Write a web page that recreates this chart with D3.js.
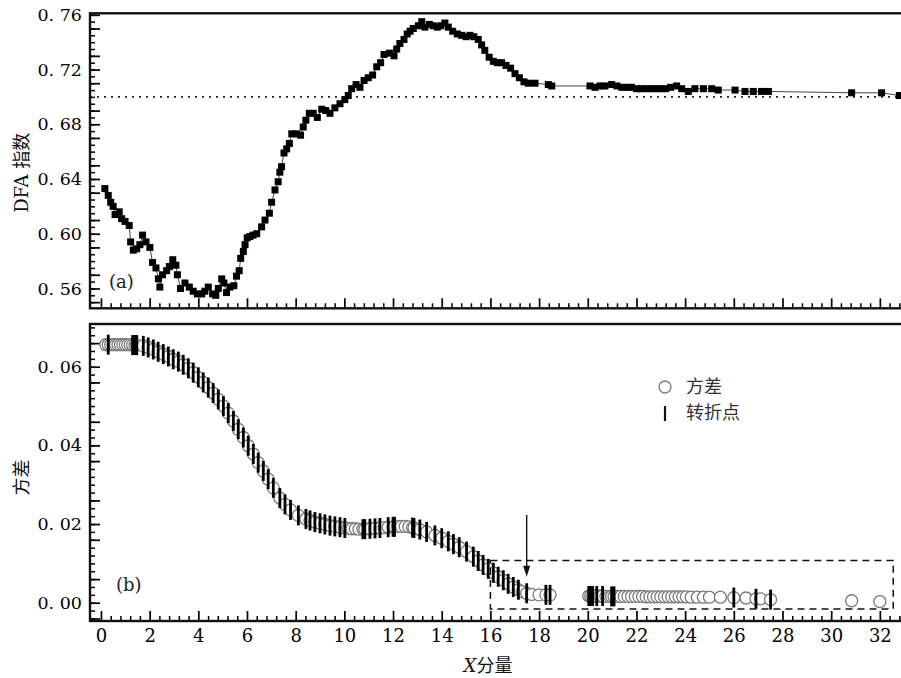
<!DOCTYPE html>
<html>
<head>
<meta charset="utf-8">
<script src="https://cdn.jsdelivr.net/npm/d3@7"></script>
<style>
  body { margin: 0; background: #fff; }
  svg { display: block; }
</style>
</head>
<body>
<svg id="chart" width="901" height="678"></svg>
<script>
// ---- (a) DFA exponent along the X component ----
const dfaX = [0.16,0.30,0.40,0.50,0.58,0.75,0.85,0.99,1.16,1.22,1.33,1.47,1.60,1.71,1.85,2.01,2.12,2.26,2.36,2.42,
  2.53,2.70,2.81,2.95,3.08,3.14,3.27,3.45,3.63,3.79,3.96,4.14,4.27,4.41,4.59,4.72,4.82,4.96,5.05,5.16,
  5.30,5.46,5.57,5.68,5.74,5.85,5.92,6.01,6.12,6.25,6.40,6.60,6.74,6.92,7.01,7.15,7.28,7.35,7.42,7.52,
  7.63,7.74,7.84,8.04,8.20,8.31,8.42,8.56,8.72,8.89,9.07,9.24,9.41,9.61,9.82,10.02,10.16,10.30,10.48,10.64,
  10.81,10.98,11.16,11.33,11.49,11.63,11.85,12.04,12.15,12.28,12.45,12.58,12.70,12.83,13.04,13.18,13.31,13.49,13.65,13.82,
  13.96,14.13,14.27,14.45,14.64,14.82,15.00,15.16,15.32,15.50,15.64,15.77,15.95,16.12,16.28,16.46,16.64,16.83,17.01,17.19,
  17.38,17.56,17.83,18.38,18.52,20.09,20.30,20.50,20.70,20.98,21.20,21.40,21.60,21.80,22.00,22.20,22.40,22.60,22.80,23.00,
  23.20,23.40,23.65,23.86,24.13,24.40,24.75,25.09,25.36,26.05,26.46,26.80,27.14,27.42,30.84,32.07,32.80];
const dfaY = [0.633,0.628,0.623,0.620,0.614,0.616,0.611,0.609,0.606,0.594,0.588,0.589,0.592,0.599,0.594,0.590,0.579,0.575,0.567,0.561,
  0.570,0.573,0.576,0.581,0.577,0.570,0.560,0.564,0.561,0.558,0.556,0.556,0.558,0.561,0.556,0.555,0.560,0.567,0.564,0.557,
  0.561,0.562,0.569,0.573,0.582,0.587,0.592,0.597,0.598,0.599,0.600,0.605,0.610,0.615,0.623,0.632,0.638,0.645,0.649,0.659,
  0.662,0.666,0.673,0.673,0.672,0.678,0.683,0.688,0.688,0.685,0.691,0.690,0.688,0.692,0.695,0.698,0.701,0.706,0.709,0.707,
  0.712,0.714,0.716,0.722,0.725,0.731,0.732,0.730,0.735,0.739,0.742,0.746,0.748,0.750,0.752,0.755,0.751,0.753,0.752,0.751,
  0.752,0.754,0.751,0.748,0.746,0.745,0.744,0.745,0.744,0.742,0.738,0.734,0.729,0.726,0.725,0.725,0.723,0.721,0.717,0.714,
  0.711,0.710,0.710,0.709,0.708,0.708,0.707,0.708,0.708,0.709,0.708,0.707,0.707,0.707,0.706,0.706,0.706,0.706,0.706,0.706,
  0.706,0.707,0.708,0.706,0.704,0.706,0.706,0.706,0.705,0.705,0.704,0.704,0.704,0.704,0.703,0.703,0.701];
const dfaRef = 0.70;

// ---- (b) variance along the X component ----
const varX = [0.2,0.3,0.4,0.5,0.6,0.7,0.8,0.9,1.0,1.1,1.2,1.3,1.4,1.47,1.74,1.94,2.15,2.35,2.56,2.77,
  2.97,3.18,3.38,3.59,3.79,4.0,4.2,4.41,4.61,4.82,5.03,5.23,5.44,5.64,5.85,6.05,6.26,6.46,6.67,6.87,
  7.08,7.35,7.56,7.79,8.11,8.42,8.59,8.79,9.0,9.2,9.41,9.61,9.82,10.02,10.15,10.3,10.45,10.6,10.76,10.84,
  11.05,11.26,11.46,11.63,11.8,12.0,12.06,12.2,12.35,12.5,12.65,12.8,12.86,13.1,13.38,13.72,14.0,14.27,14.48,14.72,
  15.02,15.3,15.5,15.7,15.91,16.12,16.32,16.53,16.73,16.94,17.15,17.3,17.49,17.7,18.0,18.28,18.45,20.04,20.12,20.2,
  20.28,20.37,20.5,20.61,20.75,20.9,20.98,21.08,21.2,21.35,21.5,21.65,21.8,21.95,22.1,22.25,22.4,22.55,22.7,22.85,
  23.0,23.15,23.3,23.45,23.6,23.75,23.9,24.05,24.25,24.5,24.75,25.0,25.45,26.0,26.5,26.91,27.1,27.51,30.84,32.0];
const varY = [0.0656,0.0656,0.0656,0.0656,0.0656,0.0656,0.0656,0.0656,0.0656,0.0656,0.0656,0.0655,0.0655,0.0655,0.0653,0.0649,0.0644,0.0638,0.0632,0.0626,
  0.0619,0.0613,0.0605,0.0596,0.0585,0.0573,0.0560,0.0547,0.0533,0.0517,0.0500,0.0482,0.0462,0.0441,0.0420,0.0399,0.0378,0.0356,0.0335,0.0314,
  0.0292,0.0266,0.0250,0.0236,0.0222,0.0213,0.0209,0.0205,0.0202,0.0199,0.0196,0.0194,0.0192,0.0190,0.0189,0.0188,0.0188,0.0187,0.0187,0.0187,
  0.0188,0.0189,0.0190,0.0191,0.0192,0.0193,0.0193,0.0194,0.0194,0.0194,0.0193,0.0191,0.0190,0.0186,0.0180,0.0171,0.0164,0.0156,0.0149,0.0141,
  0.0130,0.0117,0.0106,0.0096,0.0086,0.0076,0.0066,0.0057,0.0048,0.0040,0.0033,0.0028,0.0024,0.0021,0.0020,0.0020,0.0020,0.0017,0.0017,0.0017,
  0.0017,0.0017,0.0017,0.0017,0.0016,0.0016,0.0016,0.0016,0.0016,0.0016,0.0016,0.0016,0.0016,0.0016,0.0016,0.0016,0.0015,0.0015,0.0015,0.0015,
  0.0015,0.0015,0.0015,0.0015,0.0015,0.0015,0.0015,0.0015,0.0014,0.0014,0.0014,0.0014,0.0014,0.0013,0.0012,0.0010,0.0010,0.0008,0.0005,0.0003];
// turning points (positions on the variance curve)
const turnX = [0.3,1.3,1.4,1.47,1.74,1.94,2.15,2.35,2.56,2.77,2.97,3.18,3.38,3.59,3.79,4.0,4.2,4.41,4.61,4.82,
  5.03,5.23,5.44,5.64,5.85,6.05,6.26,6.46,6.67,6.87,7.08,7.35,7.56,7.79,8.11,8.42,8.59,8.79,9.0,9.2,
  9.41,9.61,9.82,10.02,10.76,10.84,11.05,11.26,11.46,11.8,12.0,12.06,12.8,12.86,13.1,13.38,13.72,14.0,14.27,14.48,
  14.72,15.02,15.3,15.5,15.7,15.91,16.12,16.32,16.53,16.73,16.94,17.15,17.49,18.28,18.45,20.04,20.12,20.2,20.37,20.61,
  20.98,21.08,26.0,26.91,27.51];

// region of interest and the arrow marking where the curve flattens
const boxX = [16, 32.55];
const boxY = [-0.0016, 0.0107];
const arrowX = 17.49;
const arrowY = [0.0223, 0.0066];

// axis tick labels
const xTickVals = [0,2,4,6,8,10,12,14,16,18,20,22,24,26,28,30,32];
const dfaTickVals = [0.56,0.60,0.64,0.68,0.72,0.76];
const varTickVals = [0.00,0.02,0.04,0.06];

const svg = d3.select('#chart');
const serif = "'DejaVu Serif', 'Liberation Serif', serif";
const cjk = "'Noto Sans CJK SC', sans-serif";

const L = 90, R = 904.2;
const topPanel = { top: 13.3, bottom: 308.3 };
const botPanel = { top: 324, bottom: 621 };

const x = d3.scaleLinear().domain([-0.45, 33.0]).range([L, R]);
const yTop = d3.scaleLinear().domain([0.5455, 0.7611]).range([topPanel.bottom, topPanel.top]);
const yBot = d3.scaleLinear().domain([-0.00465, 0.07086]).range([botPanel.bottom, botPanel.top]);

const fmt2 = d => d3.format('.2f')(d).replace('.', '. ');

function styleAxis(g, width) {
  g.select('.domain').remove();
  g.selectAll('.tick line').attr('stroke', '#000').attr('stroke-width', width);
}

function xTicks(panel, labels) {
  const minor = d3.range(0, 33.01, 0.4).filter(v => Math.abs(v / 2 - Math.round(v / 2)) > 1e-6);
  const gMin = svg.append('g').attr('transform', `translate(0,${panel.bottom})`)
    .call(d3.axisBottom(x).tickValues(minor).tickSize(-5).tickFormat(''));
  styleAxis(gMin, 1.5);
  const gMaj = svg.append('g').attr('transform', `translate(0,${panel.bottom})`)
    .call(d3.axisBottom(x).tickValues(xTickVals).tickSize(-10).tickPadding(8)
      .tickFormat(labels ? d3.format('d') : ''));
  styleAxis(gMaj, 1.7);
  gMaj.selectAll('text').attr('font-family', serif).attr('font-size', 18).attr('fill', '#000');
}

function yTicks(scale, labelVals, majorStep, minorStep, lo, hi) {
  const minor = d3.range(lo, hi + 1e-9, minorStep).map(v => +v.toFixed(5));
  const major = d3.range(lo, hi + 1e-9, majorStep).map(v => +v.toFixed(5));
  const gMin = svg.append('g').attr('transform', `translate(${L},0)`)
    .call(d3.axisLeft(scale).tickValues(minor).tickSize(-5).tickFormat(''));
  styleAxis(gMin, 1.5);
  const gMaj = svg.append('g').attr('transform', `translate(${L},0)`)
    .call(d3.axisLeft(scale).tickValues(major).tickSize(-10).tickFormat(''));
  styleAxis(gMaj, 1.7);
  const gLab = svg.append('g').attr('transform', `translate(${L},0)`)
    .call(d3.axisLeft(scale).tickValues(labelVals).tickSize(-10).tickPadding(8).tickFormat(fmt2));
  styleAxis(gLab, 1.7);
  gLab.selectAll('text').attr('font-family', serif).attr('font-size', 17.5).attr('fill', '#000');
}

// ---------- panel (a) ----------
yTicks(yTop, dfaTickVals, 0.02, 0.005, 0.55, 0.76);
xTicks(topPanel, false);

svg.append('line')
  .attr('x1', L).attr('x2', R)
  .attr('y1', yTop(dfaRef)).attr('y2', yTop(dfaRef))
  .attr('stroke', '#222').attr('stroke-width', 1.6).attr('stroke-dasharray', '2,5');

const dfaData = dfaX.map((v, i) => [v, dfaY[i]]);
svg.append('path')
  .datum(dfaData)
  .attr('fill', 'none').attr('stroke', '#333').attr('stroke-width', 0.9)
  .attr('d', d3.line().x(d => x(d[0])).y(d => yTop(d[1])));
const sq = 7;
svg.append('g').selectAll('rect').data(dfaData).join('rect')
  .attr('x', d => x(d[0]) - sq / 2).attr('y', d => yTop(d[1]) - sq / 2)
  .attr('width', sq).attr('height', sq).attr('fill', '#000');

svg.append('rect')
  .attr('x', L).attr('y', topPanel.top)
  .attr('width', R - L).attr('height', topPanel.bottom - topPanel.top)
  .attr('fill', 'none').attr('stroke', '#111').attr('stroke-width', 2.4);

svg.append('text').attr('x', 109).attr('y', 288).attr('font-family', serif)
  .attr('font-size', 18).attr('fill', '#222').text('(a)');

svg.append('text')
  .attr('transform', `translate(28,${(topPanel.top + topPanel.bottom) / 2 + 12}) rotate(-90)`)
  .attr('text-anchor', 'middle').attr('font-size', 18).attr('fill', '#111')
  .call(t => {
    t.append('tspan').attr('font-family', serif).text('DFA ');
    t.append('tspan').attr('font-family', cjk).text('指数');
  });

// ---------- panel (b) ----------
yTicks(yBot, varTickVals, 0.01, 0.002, -0.004, 0.07);
xTicks(botPanel, true);

const varData = varX.map((v, i) => [v, varY[i]]);
svg.append('g').selectAll('circle').data(varData).join('circle')
  .attr('cx', d => x(d[0])).attr('cy', d => yBot(d[1])).attr('r', 6)
  .attr('fill', '#fff').attr('stroke', '#7a7a7a').attr('stroke-width', 1.3);

const barH = 20;
svg.append('g').selectAll('line').data(turnX).join('line')
  .attr('x1', d => x(d)).attr('x2', d => x(d))
  .attr('y1', d => yBot(varY[varX.indexOf(d)]) - barH / 2)
  .attr('y2', d => yBot(varY[varX.indexOf(d)]) + barH / 2)
  .attr('stroke', '#000').attr('stroke-width', 2.8);

svg.append('rect')
  .attr('x', x(boxX[0])).attr('y', yBot(boxY[1]))
  .attr('width', x(boxX[1]) - x(boxX[0])).attr('height', yBot(boxY[0]) - yBot(boxY[1]))
  .attr('fill', 'none').attr('stroke', '#111').attr('stroke-width', 1.5)
  .attr('stroke-dasharray', '7,5');

// arrow
const ax = x(arrowX), ay0 = yBot(arrowY[0]), ay1 = yBot(arrowY[1]);
svg.append('line').attr('x1', ax).attr('x2', ax).attr('y1', ay0).attr('y2', ay1 - 8)
  .attr('stroke', '#111').attr('stroke-width', 1.4);
svg.append('path')
  .attr('d', `M${ax - 3.5},${ay1 - 11} L${ax + 3.5},${ay1 - 11} L${ax},${ay1} Z`)
  .attr('fill', '#111');

svg.append('rect')
  .attr('x', L).attr('y', botPanel.top)
  .attr('width', R - L).attr('height', botPanel.bottom - botPanel.top)
  .attr('fill', 'none').attr('stroke', '#111').attr('stroke-width', 2.4);

svg.append('text').attr('x', 116).attr('y', 591).attr('font-family', serif)
  .attr('font-size', 18).attr('fill', '#222').text('(b)');

svg.append('text')
  .attr('transform', `translate(28,${(botPanel.top + botPanel.bottom) / 2 + 5}) rotate(-90)`)
  .attr('text-anchor', 'middle').attr('font-family', cjk)
  .attr('font-size', 18).attr('fill', '#111').text('方差');

// legend
const lg = svg.append('g');
lg.append('circle').attr('cx', 665).attr('cy', 387).attr('r', 6)
  .attr('fill', '#fff').attr('stroke', '#7a7a7a').attr('stroke-width', 1.3);
lg.append('text').attr('x', 686).attr('y', 393).attr('font-family', cjk)
  .attr('font-size', 18).attr('fill', '#333').text('方差');
lg.append('line').attr('x1', 665).attr('x2', 665).attr('y1', 406).attr('y2', 421)
  .attr('stroke', '#111').attr('stroke-width', 2.2);
lg.append('text').attr('x', 686).attr('y', 419).attr('font-family', cjk)
  .attr('font-size', 18).attr('fill', '#333').text('转折点');

// x-axis title
svg.append('text').attr('x', 488).attr('y', 672).attr('text-anchor', 'middle')
  .attr('font-size', 18).attr('fill', '#111')
  .call(t => {
    t.append('tspan').attr('font-family', serif).attr('font-style', 'italic').text('X');
    t.append('tspan').attr('font-family', cjk).text('分量');
  });
</script>
</body>
</html>
